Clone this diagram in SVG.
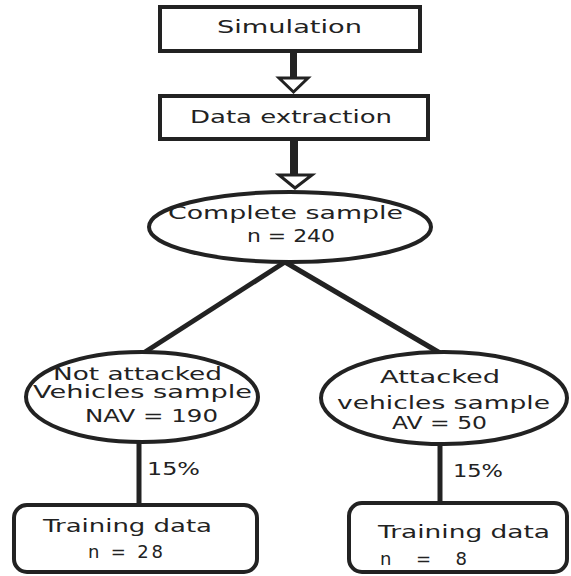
<svg xmlns="http://www.w3.org/2000/svg" width="571" height="576" viewBox="0 0 571 576">
<style>
.box{fill:#fff;stroke:#222;stroke-width:4}
.ell{fill:#fff;stroke:#222;stroke-width:4}
.ln{stroke:#222;stroke-width:5;fill:none}
.head{fill:#fff;stroke:#222;stroke-width:3;stroke-linejoin:miter}
text{font-family:"DejaVu Sans","Verdana",sans-serif;font-size:18px;fill:#222}
.sm{font-size:17px}
</style>
<rect width="571" height="576" fill="#fff"/>
<g id="connectors">
<rect x="290" y="51" width="7" height="26" fill="#222"/>
<polygon class="head" points="279,78 308,78 293.5,92"/>
<rect x="290" y="139" width="8" height="36" fill="#222"/>
<polygon class="head" points="279,175 312,175 295,188"/>
<line class="ln" x1="285" y1="262" x2="145" y2="352"/>
<line class="ln" x1="285" y1="262" x2="440" y2="353"/>
<line class="ln" x1="139" y1="442" x2="139" y2="505"/>
<line class="ln" x1="440" y1="444" x2="440" y2="503"/>
<text x="147" y="475" textLength="53" lengthAdjust="spacingAndGlyphs">15%</text>
<text x="453" y="477" textLength="50" lengthAdjust="spacingAndGlyphs">15%</text>
</g>
<g id="simulation">
<rect class="box" x="160" y="7" width="260" height="44"/>
<text x="217" y="33" textLength="145" lengthAdjust="spacingAndGlyphs">Simulation</text>
</g>
<g id="data-extraction">
<rect class="box" x="160" y="96" width="268" height="43"/>
<text x="190" y="123" textLength="202" lengthAdjust="spacingAndGlyphs">Data extraction</text>
</g>
<g id="complete-sample">
<ellipse class="ell" cx="290" cy="227" rx="141" ry="35"/>
<text x="168" y="219" textLength="235" lengthAdjust="spacingAndGlyphs">Complete sample</text>
<text x="247" y="242" textLength="88" lengthAdjust="spacingAndGlyphs">n = 240</text>
</g>
<g id="not-attacked">
<ellipse class="ell" cx="142" cy="397" rx="116" ry="45"/>
<text class="sm" x="53" y="380" textLength="169" lengthAdjust="spacingAndGlyphs">Not attacked</text>
<text class="sm" x="33" y="398" textLength="219" lengthAdjust="spacingAndGlyphs">Vehicles sample</text>
<text x="85" y="422" textLength="133" lengthAdjust="spacingAndGlyphs">NAV = 190</text>
</g>
<g id="attacked">
<ellipse class="ell" cx="444" cy="398" rx="123" ry="46"/>
<text x="380" y="383" textLength="120" lengthAdjust="spacingAndGlyphs">Attacked</text>
<text class="sm" x="337" y="409" textLength="213" lengthAdjust="spacingAndGlyphs">vehicles sample</text>
<text class="sm" x="392" y="429" textLength="95" lengthAdjust="spacingAndGlyphs">AV = 50</text>
</g>
<g id="training-left">
<rect class="box" x="14" y="505" width="243" height="67" rx="13"/>
<text x="43" y="532" textLength="169" lengthAdjust="spacingAndGlyphs">Training data</text>
<text x="88" y="558" textLength="75" lengthAdjust="spacing">n = 28</text>
</g>
<g id="training-right">
<rect class="box" x="349" y="503" width="218" height="69" rx="13"/>
<text x="378" y="538" textLength="172" lengthAdjust="spacingAndGlyphs">Training data</text>
<text x="380" y="565" textLength="87" lengthAdjust="spacing">n = 8</text>
</g>
</svg>
